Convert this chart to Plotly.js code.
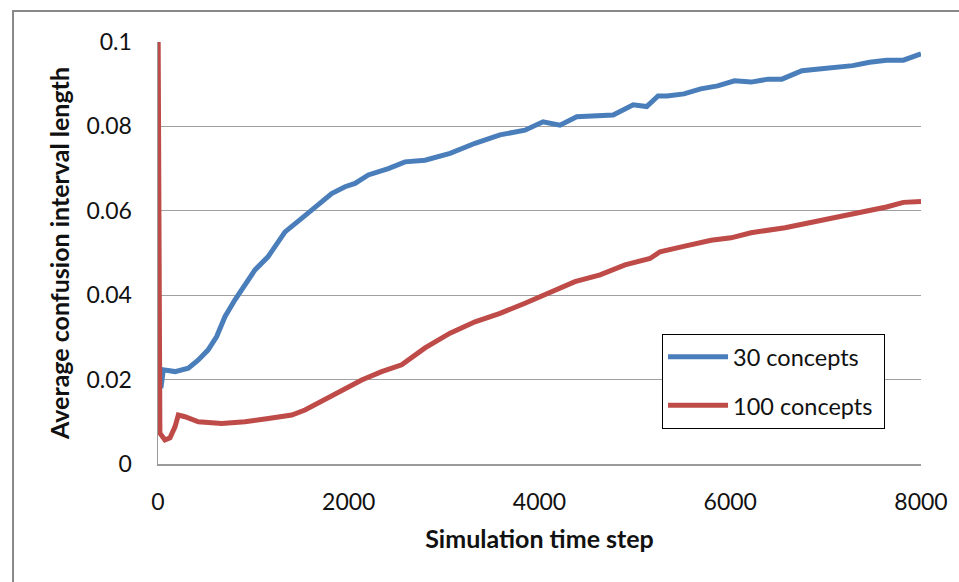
<!DOCTYPE html>
<html>
<head>
<meta charset="utf-8">
<script src="https://cdn.plot.ly/plotly-3.0.1.min.js"></script>
<style>
  html, body { margin: 0; padding: 0; background: #ffffff; }
  #chart { width: 959px; height: 582px; }
</style>
</head>
<body>
<div id="chart"></div>
<script>
// Series: 30 concepts (blue)
const steps30 = [30, 56, 178, 318, 420, 524, 615, 702, 807, 894, 1017, 1153, 1332, 1506, 1681, 1821, 1961, 2066, 2205, 2415, 2590, 2800, 3062, 3324, 3586, 3848, 4037, 4215, 4390, 4635, 4772, 4983, 5124, 5243, 5337, 5515, 5690, 5868, 6045, 6218, 6396, 6541, 6752, 6930, 7107, 7284, 7461, 7638, 7815, 8000];
const values30 = [0.018, 0.0223, 0.0219, 0.0227, 0.0246, 0.027, 0.0302, 0.0349, 0.0389, 0.042, 0.046, 0.0491, 0.055, 0.0582, 0.0614, 0.0641, 0.0657, 0.0665, 0.0685, 0.070, 0.0716, 0.072, 0.0736, 0.076, 0.078, 0.0791, 0.0811, 0.0803, 0.0823, 0.0827, 0.0827, 0.0851, 0.0847, 0.0872, 0.0872, 0.0877, 0.0889, 0.0896, 0.0908, 0.0905, 0.0912, 0.0912, 0.0932, 0.0936, 0.094, 0.0944, 0.0952, 0.0957, 0.0957, 0.0972];

// Series: 100 concepts (red)
const steps100 = [0, 20, 73, 126, 178, 213, 283, 423, 668, 912, 1157, 1402, 1541, 1716, 1926, 2136, 2345, 2555, 2800, 3062, 3324, 3586, 3848, 4110, 4372, 4635, 4897, 5159, 5264, 5500, 5800, 6008, 6218, 6574, 6930, 7284, 7638, 7815, 8000];
const values100 = [0.11, 0.0073, 0.0057, 0.0062, 0.0088, 0.0116, 0.0112, 0.010, 0.0096, 0.010, 0.0108, 0.0116, 0.0128, 0.0148, 0.0175, 0.0199, 0.0219, 0.0235, 0.0275, 0.031, 0.0337, 0.0357, 0.0381, 0.0408, 0.0432, 0.0448, 0.0472, 0.0487, 0.0503, 0.0515, 0.053, 0.0536, 0.0548, 0.056, 0.0576, 0.0592, 0.0609, 0.062, 0.0622];

const seriesNames = ["30 concepts", "100 concepts"];
const xTicks = [0, 2000, 4000, 6000, 8000];
const xTickLabels = ["0", "2000", "4000", "6000", "8000"];
const yTicks = [0, 0.02, 0.04, 0.06, 0.08, 0.1];
const yTickLabels = ["0", "0.02", "0.04", "0.06", "0.08", "0.1"];

const FONT = "Lato, 'Open Sans', 'DejaVu Sans', sans-serif";
const PAD = "\u00a0";

const traces = [
  {
    x: steps30, y: values30, name: seriesNames[0] + PAD, legendgroup: "g30", type: "scatter", mode: "lines",
    line: { color: "#4A7EBB", width: 5 }
  },
  {
    x: steps100, y: values100, name: seriesNames[1] + PAD, legendgroup: "g100", type: "scatter", mode: "lines",
    line: { color: "#BE4B48", width: 5 }
  }
];

const layout = {
  width: 959, height: 582,
  margin: { l: 158, r: 38, t: 42, b: 118 },
  paper_bgcolor: "#ffffff", plot_bgcolor: "#ffffff",
  font: { family: FONT, size: 23, color: "#111111" },
  showlegend: true,
  legend: {
    x: 0.6606, xanchor: "left", y: 0.308, yanchor: "top",
    bgcolor: "#ffffff", bordercolor: "#000000", borderwidth: 1,
    font: { family: FONT, size: 23.5, color: "#111111" },
    tracegroupgap: 15, traceorder: "grouped", itemwidth: 60
  },
  xaxis: {
    range: [0, 8000], tickvals: xTicks, ticktext: xTickLabels,
    showgrid: false, zeroline: false,
    showline: true, linecolor: "#9a9a9a", linewidth: 1.5,
    ticks: "outside", ticklen: 17, tickcolor: "rgba(0,0,0,0)",
    tickfont: { family: FONT, size: 23, color: "#111111" },
    title: { text: "<b>Simulation time step</b>", font: { family: FONT, size: 25, color: "#111111" }, standoff: 16 },
    fixedrange: true
  },
  yaxis: {
    range: [0, 0.1], tickvals: yTicks, ticktext: yTickLabels,
    showgrid: true, gridcolor: "#a0a0a0", gridwidth: 1.3, zeroline: false,
    showline: true, linecolor: "#9a9a9a", linewidth: 1.5,
    ticks: "outside", ticklen: 20, tickcolor: "rgba(0,0,0,0)",
    tickfont: { family: FONT, size: 23, color: "#111111" },
    title: { text: "<b>Average confusion interval length</b>", font: { family: FONT, size: 25, color: "#111111" }, standoff: 9 },
    fixedrange: true
  },
  shapes: [
    {
      type: "rect", xref: "paper", yref: "paper",
      x0: -0.190, x1: 1.2, y0: -0.5, y1: 1.0735,
      line: { color: "#888888", width: 2 }, fillcolor: "rgba(0,0,0,0)", layer: "below"
    }
  ]
};

Plotly.newPlot("chart", traces, layout, { displayModeBar: false, staticPlot: true });
</script>
</body>
</html>
